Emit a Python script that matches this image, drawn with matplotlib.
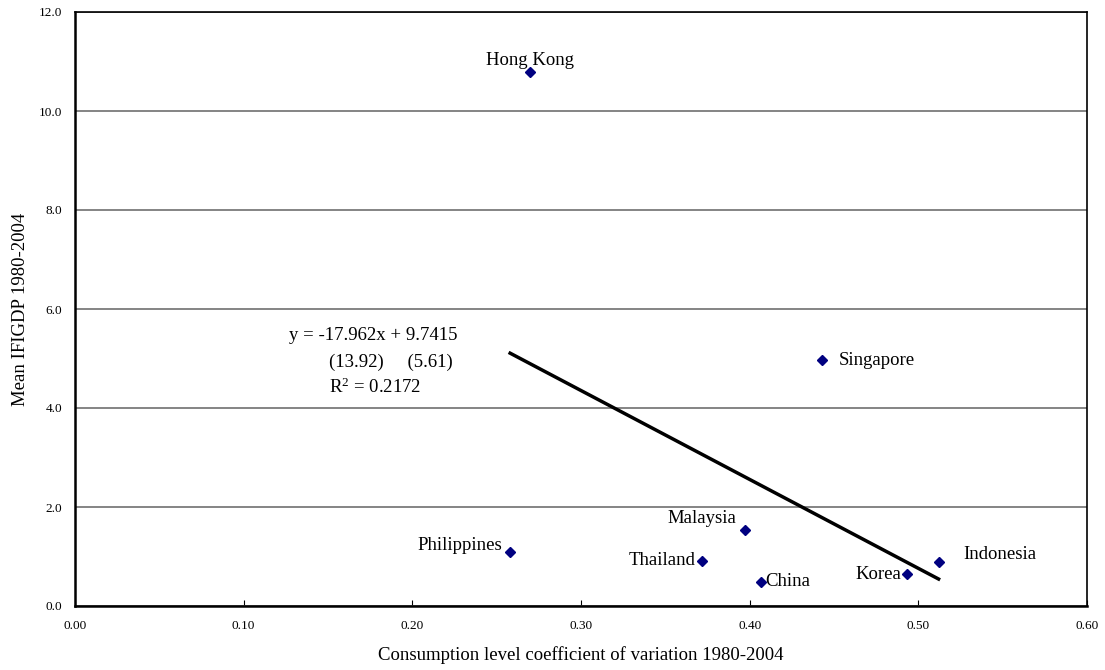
import matplotlib.pyplot as plt
import numpy as np

plt.rcParams['font.family'] = ['Liberation Serif', 'DejaVu Serif']
plt.rcParams['mathtext.fontset'] = 'custom'
plt.rcParams['mathtext.rm'] = 'Liberation Serif'
plt.rcParams['mathtext.it'] = 'Liberation Serif:italic'

countries = ['Hong Kong', 'Singapore', 'Malaysia', 'Thailand', 'China',
             'Korea', 'Indonesia', 'Philippines']
cv = [0.270, 0.443, 0.397, 0.372, 0.407, 0.493, 0.512, 0.258]
ifigdp = [10.79, 4.96, 1.54, 0.91, 0.49, 0.64, 0.88, 1.10]

slope = -17.962
intercept = 9.7415

# label offsets in points (dx, dy) and alignment
label_pos = {
    'Hong Kong': (0, 2, 'center', 'bottom'),
    'Singapore': (12, 0, 'left', 'center'),
    'Malaysia': (-6, 8, 'right', 'center'),
    'Thailand': (-5, 0, 'right', 'center'),
    'China': (3, 0, 'left', 'center'),
    'Korea': (-4, 0, 'right', 'center'),
    'Indonesia': (18, 6, 'left', 'center'),
    'Philippines': (-6, 4, 'right', 'center'),
}

fs = 13.5

fig = plt.figure(figsize=(11.05, 6.7), dpi=100)
ax = fig.add_axes([75 / 1105, 64 / 670, 1012 / 1105, 594 / 670])

ax.set_xlim(0, 0.6)
ax.set_ylim(0, 12)
ax.set_yticks(np.arange(0, 12.1, 2))
ax.set_xticks(np.arange(0, 0.61, 0.1))
ax.set_yticklabels(['%.1f' % v for v in np.arange(0, 12.1, 2)])
ax.set_xticklabels(['%.2f' % v for v in np.arange(0, 0.61, 0.1)])
ax.yaxis.grid(True, color='#6f6f6f', linewidth=1.2)
ax.set_axisbelow(True)
ax.tick_params(axis='x', direction='in', length=4, labelsize=9.5, pad=10)
ax.tick_params(axis='y', length=0, labelsize=9.5, pad=9)
for s in ax.spines.values():
    s.set_linewidth(1.2)
ax.spines['bottom'].set_linewidth(1.8)
ax.spines['left'].set_linewidth(1.8)

ax.plot(cv, ifigdp, 'D', color='#000080', markersize=5, zorder=3)

for name, x, y in zip(countries, cv, ifigdp):
    dx, dy, ha, va = label_pos[name]
    ax.annotate(name, (x, y), xytext=(dx, dy), textcoords='offset points',
                ha=ha, va=va, fontsize=fs)

xl = np.array([min(cv), max(cv)])
ax.plot(xl, slope * xl + intercept, color='black', linewidth=2.5, zorder=4)

ax.text(0.127, 5.47, 'y = -17.962x + 9.7415', fontsize=fs, va='center')
ax.text(0.1506, 4.93, '(13.92)     (5.61)', fontsize=fs, va='center')
ax.text(0.1506, 4.42, r'R$^{2}$ = 0.2172', fontsize=fs, va='center')

ax.set_xlabel('Consumption level coefficient of variation 1980-2004', fontsize=fs, labelpad=10)
ax.set_ylabel('Mean IFIGDP 1980-2004', fontsize=fs, labelpad=7)

fig.savefig('out.png', dpi=100)
